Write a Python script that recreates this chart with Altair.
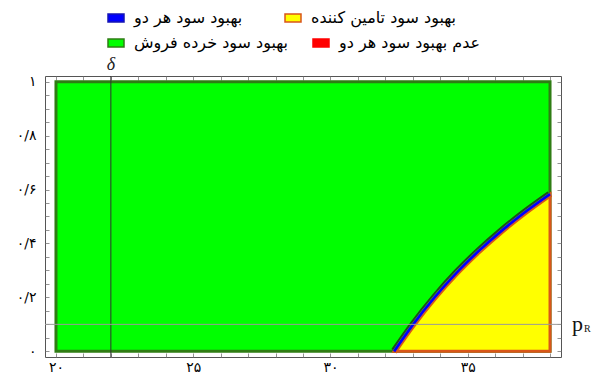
import altair as alt
import pandas as pd

# Boundary between the retailer-improvement and supplier-improvement regions
curve_x = [32.32, 33.0, 33.8, 34.6, 35.4, 36.2, 37.1, 38.0]
curve_y = [0.0, 0.098, 0.201, 0.292, 0.372, 0.444, 0.517, 0.583]

# Parameter ranges covered by the region plot
x_min, x_max = 20, 38
y_min, y_max = 0, 1

# Reference levels
delta_value = 22
pR_value = 0.1

label_both = "بهبود سود هر دو"
label_supplier = "بهبود سود تامین کننده"
label_retailer = "بهبود سود خرده فروش"
label_none = "عدم بهبود سود هر دو"

# legend rows: first row comes with the supplier region, second with the retailer region
row1_labels = [label_both, label_supplier]
row1_fill = ["#0000ff", "#ffff00"]
row1_edge = ["#1414b4", "#d9561a"]
row2_labels = [label_retailer, label_none]
row2_fill = ["#00ff00", "#ff0000"]
row2_edge = ["#2f7d14", "#ff0000"]

x_tick_values = [20, 25, 30, 35]
x_tick_labels = ["۲۰", "۲۵", "۳۰", "۳۵"]
y_tick_values = [0, 0.2, 0.4, 0.6, 0.8, 1]
y_tick_labels = ["۰", "۰/۲", "۰/۴", "۰/۶", "۰/۸", "۱"]
x_minor = list(range(20, 39))
y_minor = [round(i * 0.05, 2) for i in range(21)]


def label_expr(values, labels):
    expr = "''"
    for v, lab in reversed(list(zip(values, labels))):
        expr = f"abs(datum.value - {v}) < 1e-6 ? '{lab}' : ({expr})"
    return expr


xs = alt.Scale(domain=[19.6, 38.4], nice=False, zero=False)
ys = alt.Scale(domain=[-0.021, 1.021], nice=False, zero=False)

inward = alt.ExprRef(expr="-4")
tick_style = dict(grid=False, domain=False, tickSize=inward, tickColor="#777",
                  tickWidth=0.8, title=None, labelOverlap=False, labelFlush=False)

x_bottom = alt.Axis(orient="bottom", values=x_minor,
                    labelExpr=label_expr(x_tick_values, x_tick_labels),
                    labelFont="DejaVu Sans", labelFontSize=14, labelColor="#000",
                    labelPadding=7, **tick_style)
y_left = alt.Axis(orient="left", values=y_minor,
                  labelExpr=label_expr(y_tick_values, y_tick_labels),
                  labelFont="DejaVu Sans", labelFontSize=14, labelColor="#000",
                  labelPadding=13, **tick_style)
x_top = alt.Axis(orient="top", values=x_minor, labels=False, **tick_style)
y_right = alt.Axis(orient="right", values=y_minor, labels=False, **tick_style)


def row_legend(y, pad):
    return alt.Legend(
        title=None, orient="none", legendX=62, legendY=y, columns=2,
        columnPadding=pad, padding=0,
        symbolType="M-1,-0.5H1V0.5H-1Z", symbolSize=256, symbolStrokeWidth=1.5,
        labelFont="DejaVu Sans", labelFontSize=16, labelColor="#000",
        labelOffset=9, labelLimit=0,
    )


leg1 = row_legend(-67, 39)
leg2 = row_legend(-42, 21)

green_df = pd.DataFrame({"x": [x_min], "x2": [x_max], "y": [y_min], "y2": [y_max],
                         "cat": [label_retailer]})
curve_df = pd.DataFrame({"x": curve_x, "y": curve_y, "cat": label_supplier})

green = alt.Chart(green_df).mark_rect(strokeWidth=3).encode(
    x=alt.X("x:Q", scale=xs, axis=x_bottom), x2="x2:Q",
    y=alt.Y("y:Q", scale=ys, axis=y_left), y2="y2:Q",
    fill=alt.Fill("cat:N", scale=alt.Scale(domain=row2_labels, range=row2_fill), legend=leg2),
    stroke=alt.Stroke("cat:N", scale=alt.Scale(domain=row2_labels, range=row2_edge), legend=leg2),
)

yellow = alt.Chart(curve_df).mark_area(strokeWidth=3, interpolate="monotone",
                                       fillOpacity=1).encode(
    x=alt.X("x:Q", scale=xs, axis=x_bottom),
    y=alt.Y("y:Q", scale=ys, axis=y_left), y2=alt.datum(0),
    fill=alt.Fill("cat:N", scale=alt.Scale(domain=row1_labels, range=row1_fill), legend=leg1),
    stroke=alt.Stroke("cat:N", scale=alt.Scale(domain=row1_labels, range=row1_edge), legend=leg1),
)


def band(color, width, off):
    return alt.Chart(curve_df).mark_line(color=color, strokeWidth=width,
                                         xOffset=off, yOffset=off,
                                         interpolate="monotone").encode(
        x=alt.X("x:Q", scale=xs, axis=x_bottom),
        y=alt.Y("y:Q", scale=ys, axis=y_left),
    )


band_orange = band("#d9561a", 1.8, 1.6)
band_dark = band("#1e4a1a", 1.8, -1.9)
band_blue = band("#0000ff", 2.8, 0)

regions = alt.layer(green, yellow, band_orange, band_dark, band_blue).resolve_scale(
    fill="independent", stroke="independent")

delta_df = pd.DataFrame({"x": [delta_value], "t": ["δ"]})
pr_df = pd.DataFrame({"y": [pR_value], "p": ["p"], "r": ["R"]})

vrule = alt.Chart(delta_df).mark_rule(color="#333", strokeWidth=1).encode(
    x=alt.X("x:Q", scale=xs, axis=x_top))
hrule = alt.Chart(pr_df).mark_rule(color="#999", strokeWidth=1).encode(
    y=alt.Y("y:Q", scale=ys, axis=y_right))
delta_text = alt.Chart(delta_df).mark_text(
    font="Liberation Serif", fontStyle="italic", fontSize=18, baseline="bottom",
    color="#222").encode(x=alt.X("x:Q", scale=xs, axis=x_top), y=alt.value(-2), text="t:N")
p_text = alt.Chart(pr_df).mark_text(
    font="Liberation Serif", fontSize=22, align="left", baseline="middle",
    color="#111").encode(x=alt.value(527), y=alt.Y("y:Q", scale=ys, axis=y_right),
                          text="p:N")
r_text = alt.Chart(pr_df).mark_text(
    font="Liberation Serif", fontSize=10, align="left", baseline="middle", dy=5,
    color="#111").encode(x=alt.value(539), y=alt.Y("y:Q", scale=ys, axis=y_right),
                          text="r:N")

guides = alt.layer(vrule, hrule, delta_text, p_text, r_text)

chart = alt.layer(regions, guides).resolve_scale(
    x="independent", y="independent"
).properties(
    width=516, height=281,
    padding={"left": 45, "top": 76, "right": 35, "bottom": 19},
    autosize="none",
).configure_view(stroke="#555", strokeWidth=1).configure_axis(grid=False)

chart.save("out.html", embed_options={"renderer": "svg", "actions": False})
